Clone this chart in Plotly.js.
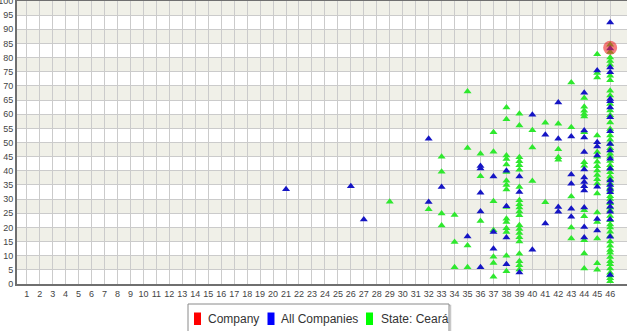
<!DOCTYPE html>
<html>
<head>
<meta charset="utf-8">
<script src="https://cdn.plot.ly/plotly-3.0.1.min.js"></script>
<style>html,body{margin:0;padding:0;background:#fff;}#chart{width:634px;height:331px;}</style>
</head>
<body>
<div id="chart"></div>
<script>
// ---- data ----
const xTickLabels = Array.from({length: 46}, (_, i) => String(i + 1));
const yTickValues = [0,5,10,15,20,25,30,35,40,45,50,55,60,65,70,75,80,85,90,95,100];

const companyX = [46];
const companyY = [83.5];

const allCompaniesX = [
  21, 26, 27,
  32, 32,
  33,
  35,
  36, 36, 36, 36, 36,
  37, 37, 37,
  38, 38, 38, 38,
  39, 39, 39,
  40, 40,
  41, 41,
  42, 42, 42, 42,
  43, 43, 43, 43, 43,
  44, 44, 44, 44, 44, 44, 44, 44, 44, 44, 44, 44,
  45, 45, 45, 45, 45, 45, 45,
  46, 46, 46, 46, 46, 46, 46, 46, 46, 46, 46, 46, 46, 46, 46, 46, 46, 46, 46, 46, 46, 46, 46
];
const allCompaniesY = [
  33.5, 34.5, 22.8,
  51.3, 29,
  34.3,
  16.8,
  41.7, 40.8, 32.2, 25.6, 5.9,
  38, 18.4, 12.5,
  40, 27.5, 16.4, 7,
  38, 32.5, 4.1,
  59.8, 12.1,
  52.7, 21.4,
  64.1, 51.3, 27.2, 25.5,
  52.1, 38.7, 35.4, 26.6, 23.8,
  67.6, 54.2, 51.8, 46.6, 40.5, 37.6, 36, 34.5, 33, 27, 20.1, 16.4,
  75.4, 50.1, 48.6, 45.4, 34.4, 23, 18.9,
  92.4, 83.2, 76.5, 74.8, 65.4, 64.6, 62.4, 58.9, 54, 49.5, 47.2, 44.3, 40.7, 36.6, 35, 33.6, 32.4, 29, 27.3, 25.5, 22.8, 16.7, 3.2
];

const stateX = [
  29,
  32,
  33, 33, 33, 33,
  34, 34, 34,
  35, 35, 35, 35,
  36, 36, 36,
  37, 37, 37, 37, 37, 37, 37,
  38, 38, 38, 38, 38, 38, 38, 38, 38, 38, 38, 38, 38, 38, 38, 38,
  39, 39, 39, 39, 39, 39, 39, 39, 39, 39, 39, 39, 39, 39, 39, 39, 39, 39, 39, 39, 39,
  40, 40, 40,
  41, 41,
  42, 42, 42, 42,
  43, 43, 43, 43, 43,
  44, 44, 44, 44, 44, 44, 44, 44, 44, 44, 44, 44, 44,
  45, 45, 45, 45, 45, 45, 45, 45, 45, 45, 45, 45, 45, 45, 45, 45, 45, 45,
  46, 46, 46, 46, 46, 46, 46, 46, 46, 46, 46, 46, 46, 46, 46, 46, 46, 46, 46, 46, 46, 46, 46, 46, 46, 46,
  46, 46, 46, 46, 46, 46, 46, 46, 46, 46, 46, 46, 46, 46, 46, 46, 46, 46, 46, 46, 46, 46, 46, 46, 46, 46
];
const stateY = [
  29.1,
  26.4,
  45, 39.7, 24.9, 20.7,
  24.4, 14.8, 5.9,
  68, 48.1, 13.6, 5.9,
  46, 38.1, 22.3,
  53.6, 46.7, 29.2, 19, 9.6, 7.4, 2.6,
  62.4, 58.2, 45.4, 44.2, 42.2, 39.6, 36.5, 35, 33.4, 27.2, 23.1, 21.9, 19.7, 18.4, 10, 4.5,
  60.2, 56, 44.8, 43.4, 42, 40.4, 34.3, 29.6, 28.2, 27, 25.6, 24.3, 20.8, 19.4, 18, 16.5, 15, 10.7, 8, 6.6, 5.1,
  54.3, 48.2, 36.4,
  57, 28.9,
  56.6, 47.6, 44.8, 43.9,
  71.2, 55.4, 30.9, 20, 16.1,
  65.7, 62.6, 61.2, 60.1, 59.2, 53.6, 43, 41.8, 26.1, 23.9, 15.5, 10.8, 5.5,
  81.2, 74.6, 73, 52.5, 46.6, 45, 43.2, 41.6, 40.1, 38.5, 37, 35.5, 32, 25.3, 21.9, 16.1, 7.3, 5,
  84.5, 82, 80, 78.8, 77.5, 73.6, 72, 68.3, 66.6, 63.6, 61.3, 59.6, 57.1, 54.8, 52.5, 51, 49.6, 48, 46, 45, 43.5, 42, 41, 39.5, 38, 37,
  35.5, 34, 33, 31, 30, 28.5, 27, 26, 24, 22.5, 21, 20, 18.5, 17, 15, 13.5, 12, 11, 9.5, 8, 7, 5.5, 4, 3, 2, 1
];

const seriesNames = ['Company', 'All Companies', 'State: Ceará'];
const legendColors = ['#ff0000', '#0000ff', '#00ff00'];

// ---- layout helpers (pixel -> paper) ----
const M = {l: 17, r: 7, t: 1, b: 47};
const W = 634, H = 331;
const PW = W - M.l - M.r, PH = H - M.t - M.b;
const px = x => (x - M.l) / PW;
const py = y => (H - M.b - y) / PH;

const traces = [
  {x: stateX, y: stateY, name: seriesNames[2], type: 'scatter', mode: 'markers', showlegend: false,
   marker: {symbol: 'triangle-up', size: 7, color: '#2ee82e', line: {width: 0}}, hoverinfo: 'x+y'},
  {x: allCompaniesX, y: allCompaniesY, name: seriesNames[1], type: 'scatter', mode: 'markers', showlegend: false,
   marker: {symbol: 'triangle-up', size: 7, color: '#1515c4', line: {width: 0}}, hoverinfo: 'x+y'},
  {x: companyX, y: companyY, name: seriesNames[0], type: 'scatter', mode: 'markers', showlegend: false,
   marker: {symbol: 'circle', size: 14, color: 'rgba(240,40,40,0.6)', line: {width: 0}}, hoverinfo: 'x+y'}
];

const shapes = [];
for (let v = 5; v < 100; v += 10) {
  shapes.push({type: 'rect', xref: 'paper', yref: 'y', x0: 0, x1: 1, y0: v, y1: v + 5,
    fillcolor: '#f0f0e8', line: {width: 0}, layer: 'below'});
}
// legend box
shapes.push({type: 'rect', xref: 'paper', yref: 'paper', x0: px(189.5), x1: px(450.5), y0: py(305.5), y1: py(337),
  fillcolor: 'rgba(0,0,0,0)', line: {color: '#c8c8c8', width: 1.5}, layer: 'above'});
shapes.push({type: 'rect', xref: 'paper', yref: 'paper', x0: px(188), x1: px(449), y0: py(304), y1: py(336),
  fillcolor: '#ffffff', line: {color: '#8a8a8a', width: 1}, layer: 'above'});
const legendSymX = [194, 267.5, 366];
const legendTextX = [205.5, 278.5, 379];
const annotations = [];
for (let i = 0; i < 3; i++) {
  shapes.push({type: 'rect', xref: 'paper', yref: 'paper', x0: px(legendSymX[i]), x1: px(legendSymX[i] + 7),
    y0: py(312.5), y1: py(325), fillcolor: legendColors[i], line: {width: 0}, layer: 'above'});
  annotations.push({xref: 'paper', yref: 'paper', x: px(legendTextX[i]), y: py(319), xanchor: 'left', yanchor: 'middle',
    text: seriesNames[i], showarrow: false, font: {family: 'Liberation Sans, Arial, sans-serif', size: 12, color: '#333'}});
}

const layout = {
  width: W, height: H,
  margin: M,
  paper_bgcolor: '#ffffff', plot_bgcolor: '#ffffff',
  showlegend: false,
  font: {family: 'Liberation Sans, Arial, sans-serif', size: 9, color: '#444'},
  xaxis: {
    range: [0.25, 47.3],
    tickvals: xTickLabels.map(Number), ticktext: xTickLabels,
    showgrid: true, gridcolor: '#cbcbcb', gridwidth: 1,
    zeroline: false, showline: true, linecolor: '#6f6f6f', linewidth: 2, mirror: true,
    ticks: '', tickfont: {size: 9, color: '#444'}, fixedrange: true
  },
  yaxis: {
    range: [0, 100],
    tickvals: yTickValues,
    showgrid: true, gridcolor: '#cbcbcb', gridwidth: 1,
    zeroline: false, showline: true, linecolor: '#6f6f6f', linewidth: 2,
    ticks: '', tickfont: {size: 9, color: '#444'}, fixedrange: true,
    ticklabeloverflow: 'allow'
  },
  shapes: shapes,
  annotations: annotations
};

Plotly.newPlot('chart', traces, layout, {displayModeBar: false, staticPlot: true});
</script>
</body>
</html>
